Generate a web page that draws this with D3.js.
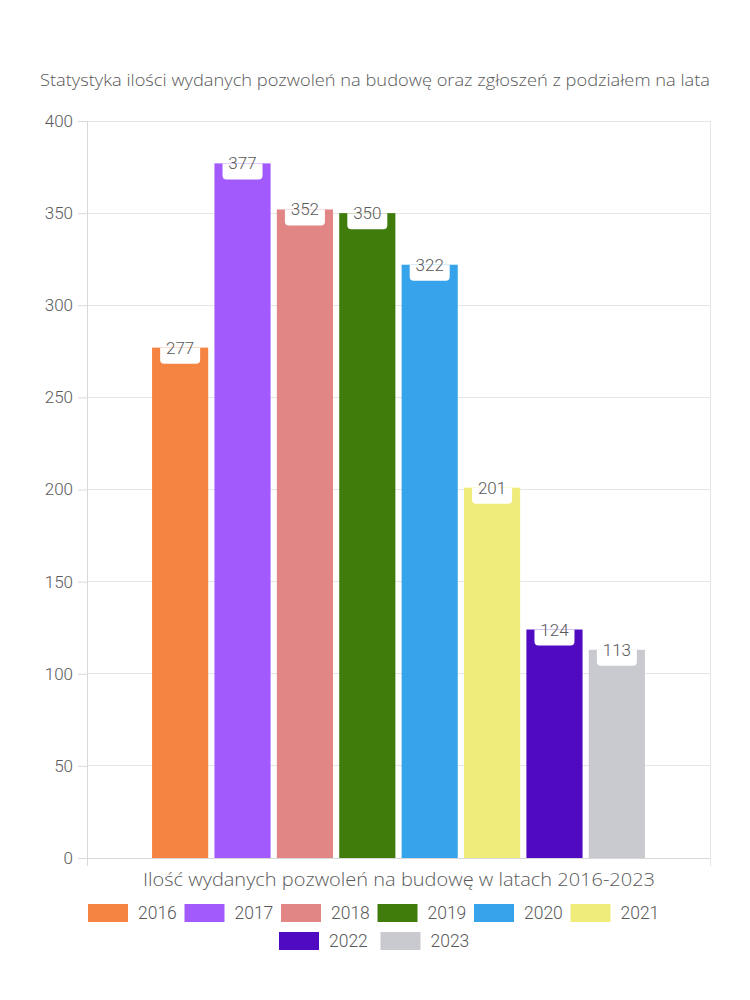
<!DOCTYPE html>
<html><head><meta charset="utf-8">
<script src="https://cdn.jsdelivr.net/npm/d3@7"></script>
<style>body{margin:0;background:#fff}svg{display:block}</style>
</head><body>
<svg id="c" width="750" height="1000"></svg>
<script>
const title = "Statystyka ilości wydanych pozwoleń na budowę oraz zgłoszeń z podziałem na lata";
const xTitle = "Ilość wydanych pozwoleń na budowę w latach 2016-2023";
const categories = [""];
const years = ["2016","2017","2018","2019","2020","2021","2022","2023"];
const values = [277, 377, 352, 350, 322, 201, 124, 113];
const colors = ["#f58442","#a25afd","#e18585","#3f7c0c","#37a3ea","#f0ec7c","#500ac2","#c9cacf"];
const yTicks = [0,50,100,150,200,250,300,350,400];

const svg = d3.select("#c");
const M = {l:87, r:710, t:121, b:858};
const txt = "#595959";
const fontT = "'Open Sans', Lato, sans-serif";
const fontN = "Roboto, sans-serif";

svg.append("text").attr("x",375).attr("y",86).attr("text-anchor","middle")
  .attr("font-family",fontT).attr("font-size",16).attr("font-weight",300).attr("fill",txt)
  .attr("textLength",670).attr("lengthAdjust","spacingAndGlyphs").text(title);

const y = d3.scaleLinear().domain([0,400]).range([M.b,M.t]);
const x0 = d3.scaleBand().domain(categories).range([M.l,M.r]).paddingInner(0).paddingOuter(0.132);
const x1 = d3.scaleBand().domain(years).range([0,x0.bandwidth()]).paddingInner(0.1).paddingOuter(0);

// grid
svg.append("g").selectAll("line").data(yTicks.filter(d=>d>0)).join("line")
  .attr("x1",M.l).attr("x2",M.r).attr("y1",d=>y(d)).attr("y2",d=>y(d))
  .attr("stroke","#e6e6e6").attr("stroke-width",1).attr("shape-rendering","crispEdges");
svg.append("line").attr("x1",M.r+0.5).attr("x2",M.r+0.5).attr("y1",M.t).attr("y2",M.b+8)
  .attr("stroke","#e6e6e6");

// y axis
const yAxis = svg.append("g").attr("transform",`translate(${M.l},0)`)
  .call(d3.axisLeft(y).tickValues(yTicks).tickSize(9).tickPadding(5));
yAxis.select(".domain").remove();
yAxis.selectAll(".tick line").attr("stroke","#d9d9d9");
yAxis.selectAll("text").attr("font-family",fontN).attr("font-size",17).attr("font-weight",300).attr("fill",txt);
svg.append("line").attr("x1",M.l+0.5).attr("x2",M.l+0.5).attr("y1",M.t).attr("y2",M.b+8).attr("stroke","#d9d9d9");
svg.append("line").attr("x1",M.l).attr("x2",M.r).attr("y1",M.b+0.5).attr("y2",M.b+0.5).attr("stroke","#d9d9d9");

// bars
const g = svg.append("g").attr("transform",`translate(${x0("")},0)`);
const data = years.map((yr,i)=>({yr, v:values[i], c:colors[i]}));
g.selectAll("rect.bar").data(data).join("rect").attr("class","bar")
  .attr("x",d=>x1(d.yr)).attr("width",x1.bandwidth())
  .attr("y",d=>y(d.v)).attr("height",d=>M.b-y(d.v)).attr("fill",d=>d.c);

// labels with white boxes (rounded bottom corners)
const bw = 40, bh = 16, r = 4;
g.selectAll("path.lab").data(data).join("path").attr("class","lab")
  .attr("fill","#fff")
  .attr("d",d=>{
    const cx = x1(d.yr)+x1.bandwidth()/2, top = y(d.v);
    const l = cx-bw/2, rr = cx+bw/2, b = top+bh;
    return `M${l},${top}H${rr}V${b-r}Q${rr},${b} ${rr-r},${b}H${l+r}Q${l},${b} ${l},${b-r}Z`;
  });
g.selectAll("text.lab").data(data).join("text").attr("class","lab")
  .attr("x",d=>x1(d.yr)+x1.bandwidth()/2).attr("y",d=>y(d.v)+6)
  .attr("text-anchor","middle").attr("font-family",fontN).attr("font-size",17).attr("font-weight",300)
  .attr("fill",txt).text(d=>d.v);

// x title
svg.append("text").attr("x",399).attr("y",886).attr("text-anchor","middle")
  .attr("font-family",fontT).attr("font-size",18).attr("font-weight",300).attr("fill",txt)
  .attr("textLength",512).attr("lengthAdjust","spacingAndGlyphs").text(xTitle);

// legend
const rows = [years.slice(0,6), years.slice(6)];
const rowX = [88, 279], rowY = [904, 932], step = 96.5;
rows.forEach((row,ri)=>{
  const lg = svg.append("g");
  const it = lg.selectAll("g").data(row).join("g")
    .attr("transform",(d,i)=>`translate(${rowX[ri]+i*(ri===0?step:101.5)},${rowY[ri]})`);
  it.append("rect").attr("width",40).attr("height",18).attr("fill",d=>colors[years.indexOf(d)]);
  it.append("text").attr("x",50).attr("y",15).attr("font-family",fontN).attr("font-size",17.5).attr("font-weight",300)
    .attr("fill",txt).text(d=>d);
});
</script>
</body></html>
